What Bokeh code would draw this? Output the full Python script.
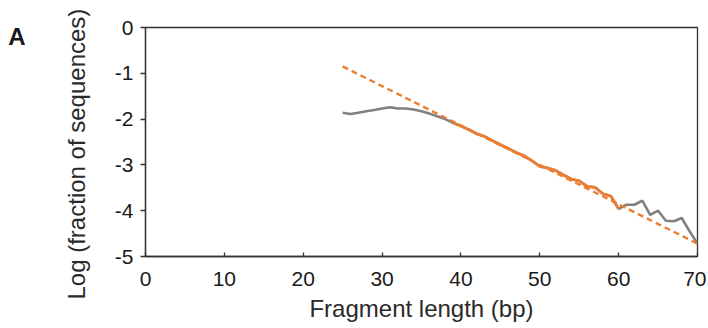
from bokeh.plotting import figure
from bokeh.models import FixedTicker, Range1d, LinearAxis, Title
from bokeh.embed import file_html
from bokeh.resources import INLINE

# Fragment length (bp) and log fraction of sequences
frag_len = list(range(25, 71))
log_frac = [-1.86, -1.89, -1.86, -1.83, -1.80, -1.77, -1.74, -1.77, -1.77, -1.79,
            -1.83, -1.88, -1.94, -2.00, -2.08, -2.15, -2.23, -2.32, -2.38, -2.47,
            -2.56, -2.64, -2.73, -2.80, -2.91, -3.03, -3.07, -3.12, -3.22, -3.31,
            -3.35, -3.47, -3.49, -3.63, -3.68, -3.96, -3.87, -3.87, -3.78, -4.09,
            -4.00, -4.22, -4.23, -4.16, -4.45, -4.72]
# range used for the fit (highlighted in orange)
fit_start, fit_end = 39, 60
# fitted line endpoints
fit_x = [25, 70]
fit_y = [-0.85, -4.72]

x_ticks = [0, 10, 20, 30, 40, 50, 60, 70]
y_ticks = [0, -1, -2, -3, -4, -5]
y_tick_labels = ["0", "-1", "-2", "-3", "-4", "-5"]
x_title = "Fragment length (bp)"
y_title = "Log (fraction of sequences)"
panel_letter = "A"
panel_letter_y = -0.19

GRAY = "#808080"
ORANGE = "#ED7D31"
FONT = "Liberation Sans"
AXIS_COLOR = "#333333"

p = figure(width=706, height=326, output_backend="svg", toolbar_location=None,
           x_range=Range1d(0, 70), y_range=Range1d(-5, 0),
           min_border_left=145, min_border_right=9, min_border_top=27,
           min_border_bottom=70)
p.grid.visible = False
p.background_fill_color = "white"
p.border_fill_color = "white"
p.outline_line_color = AXIS_COLOR
p.outline_line_width = 1.3

fit_idx = [i for i, x in enumerate(frag_len) if fit_start <= x <= fit_end]
p.line(frag_len, log_frac, line_color=GRAY, line_width=2.6)
p.line([frag_len[i] for i in fit_idx], [log_frac[i] for i in fit_idx],
       line_color=ORANGE, line_width=2.8)
p.line(fit_x, fit_y, line_color=ORANGE, line_width=2.4, line_dash="6 4")

for ax in (p.xaxis[0], p.yaxis[0]):
    ax.axis_line_color = AXIS_COLOR
    ax.axis_line_width = 1.3
    ax.major_tick_line_color = AXIS_COLOR
    ax.major_tick_line_width = 1.3
    ax.minor_tick_line_color = None
    ax.major_label_text_font = FONT
    ax.major_label_text_font_size = "21px"
    ax.major_label_text_color = "#1a1a1a"
    ax.axis_label_text_font = FONT
    ax.axis_label_text_font_style = "normal"
    ax.axis_label_text_color = "#2a2a2a"

p.xaxis.axis_label_text_font_size = "24px"
p.xaxis.ticker = FixedTicker(ticks=x_ticks)
p.yaxis.ticker = FixedTicker(ticks=y_ticks)
p.yaxis.major_label_overrides = dict(zip(y_ticks, y_tick_labels))
p.xaxis.major_tick_in = 4
p.xaxis.major_tick_out = 0
p.xaxis.major_label_standoff = 15
p.xaxis.axis_label = x_title
p.xaxis.axis_label_standoff = 6
p.yaxis.major_tick_in = 0
p.yaxis.major_tick_out = 5
p.yaxis.major_label_standoff = 7

# y title as a left-side Title so it can be shifted along the axis
ytitle = Title(text=y_title, align="left", offset=-43, standoff=43,
               text_font=FONT, text_font_size="24px", text_font_style="normal",
               text_color="#2a2a2a")
p.add_layout(ytitle, "left")

# panel letter, drawn as the single label of an extra, bare left axis
letter_axis = LinearAxis(ticker=FixedTicker(ticks=[panel_letter_y]),
                         major_label_overrides={panel_letter_y: panel_letter})
letter_axis.axis_line_color = None
letter_axis.major_tick_line_color = None
letter_axis.minor_tick_line_color = None
letter_axis.major_label_text_font = FONT
letter_axis.major_label_text_font_size = "24px"
letter_axis.major_label_text_font_style = "bold"
letter_axis.major_label_text_color = "#1a1a1a"
letter_axis.major_label_standoff = 8
p.add_layout(letter_axis, "left")

open("out.html", "w").write(file_html(p, INLINE))
